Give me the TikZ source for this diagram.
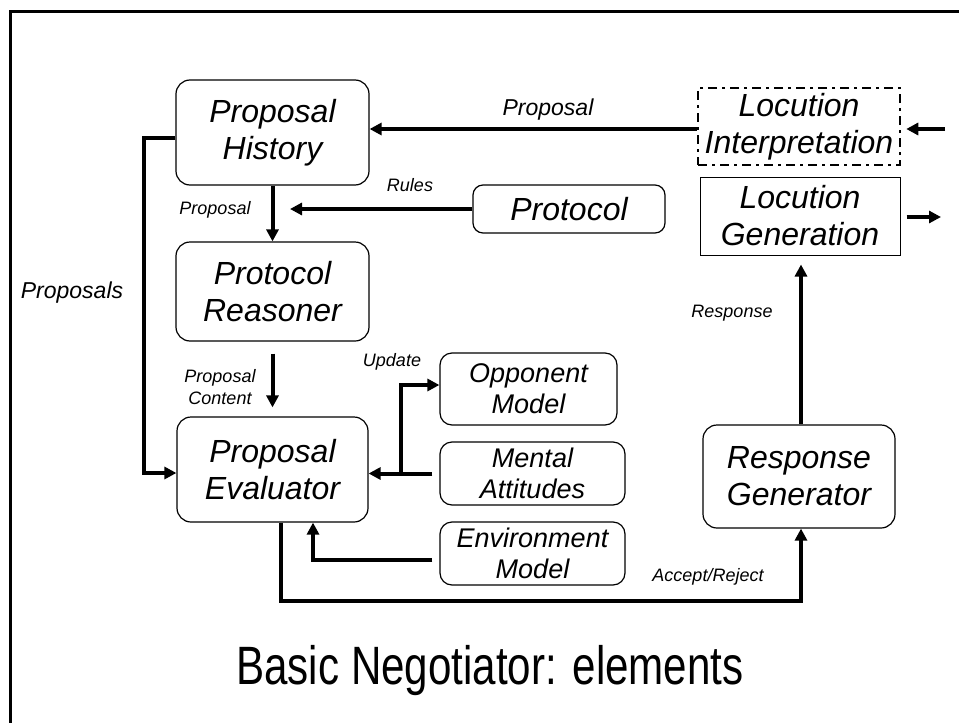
\documentclass[tikz,border=0pt]{standalone}
\usepackage{fontspec}
\setmainfont{Liberation Sans}
\newfontfamily\narrowfont[FakeStretch=0.78]{Liberation Sans}
\usetikzlibrary{arrows.meta}
\begin{document}
\begin{tikzpicture}[x=1pt,y=-1pt,
  box/.style={draw, line width=1.2pt, rounded corners=14pt, align=center,
    font=\fontsize{32}{37}\selectfont\itshape, inner sep=0pt},
  sbox/.style={box, font=\fontsize{27}{31}\selectfont\itshape, rounded corners=12pt},
  conn/.style={line width=4pt, -{Triangle[length=12pt,width=12pt]}},
  lbl/.style={font=\fontsize{18}{22}\selectfont\itshape, align=center, inner sep=0pt},
  biglbl/.style={font=\fontsize{23}{27}\selectfont\itshape, inner sep=0pt},
  frame/.style={line width=3pt}
]
\useasboundingbox (0,0) rectangle (959,723);
\fill[white] (0,0) rectangle (959,723);

% frame
\coordinate (fbl) at (10,723);
\coordinate (ftl) at (10,11);
\coordinate (ftr) at (959,11);
\draw[frame] (fbl) -- (ftl) -- (ftr);

% boxes
\node[box, minimum width=193pt, minimum height=105pt] (PH) at (272.5,132.5) {Proposal\\History};
\node[box, minimum width=193pt, minimum height=99pt] (PR) at (272.5,291.5) {Protocol\\Reasoner};
\node[box, minimum width=192pt, minimum height=48pt, rounded corners=10pt] (PC) at (569,209) {Protocol};
\node[box, minimum width=191pt, minimum height=105pt] (PE) at (272.5,469.5) {Proposal\\Evaluator};
\node[sbox, minimum width=177pt, minimum height=72pt] (OM) at (528.5,389) {Opponent\\Model};
\node[sbox, minimum width=185pt, minimum height=63pt] (MA) at (532.5,473.5) {Mental\\Attitudes};
\node[sbox, minimum width=185pt, minimum height=63pt] (EM) at (532.5,553.5) {Environment\\Model};
\node[box, minimum width=192pt, minimum height=103pt] (RG) at (799,476.5) {Response\\Generator};
\node[box, rounded corners=0pt, line width=2.5pt, dash pattern=on 9pt off 5pt on 3pt off 5pt,
  minimum width=202pt, minimum height=77pt] (LI) at (799,126.5) {Locution\\Interpretation};
\node[box, rounded corners=0pt, line width=1pt, minimum width=200pt, minimum height=78pt] (LG) at (800,216) {Locution\\Generation};

% free ends
\coordinate (inR) at (945,129);
\coordinate (outR) at (941,217);
\coordinate (rulesEnd) at (290,209);
\coordinate (br) at (401,473.5);

% connectors
\draw[conn] ([yshift=-2.5pt]LI.west) -- ([yshift=-2.5pt]LI.west -| PH.east);
\draw[conn] (inR) -- ([xshift=5pt]LI.east |- inR);
\draw[conn] ([xshift=6pt,yshift=-1pt]LG.east) -- (outR);
\draw[conn] (PH.south) -- (PR.north);
\draw[conn] (PC.west) -- (rulesEnd);
\draw[conn, shorten <=12pt, shorten >=9pt] (PR.south) -- (PE.north);
\draw[conn] ([yshift=-5.5pt]PH.west) -- ++(-31,0) |- ([yshift=-3.5pt]PE.west);
\draw[conn, shorten <=7pt] (MA.west) -- (MA.west -| PE.east);
\draw[conn] (br) |- ([yshift=4pt]OM.west);
\draw[conn, shorten <=7pt] ([yshift=-6.5pt]EM.west) -| ([xshift=40.5pt]PE.south);
\draw[conn] ([xshift=8.5pt]PE.south) -- ++(0,78) -| ([xshift=2pt]RG.south);
\draw[conn, shorten >=9pt] ([xshift=2pt]RG.north) -- ([xshift=2pt]RG.north |- LG.south);

% labels
\node[biglbl] (lProp) at (548,110) {Proposal};
\node[lbl] (lRules) at (410,185) {Rules};
\node[lbl] (lProp2) at (215,210) {Proposal};
\node[biglbl] (lProps) at (72,293) {Proposals};
\node[lbl] (lPC) at (220,387) {Proposal\\Content};
\node[lbl] (lUpd) at (392,362) {Update};
\node[lbl] (lResp) at (732,313) {Response};
\node[lbl] (lAR) at (708,577) {Accept/Reject};
\node[anchor=base, inner sep=0pt, font=\narrowfont\fontsize{54}{60}\selectfont] (title) at (490,684) {Basic Negotiator: elements};
\end{tikzpicture}
\end{document}
